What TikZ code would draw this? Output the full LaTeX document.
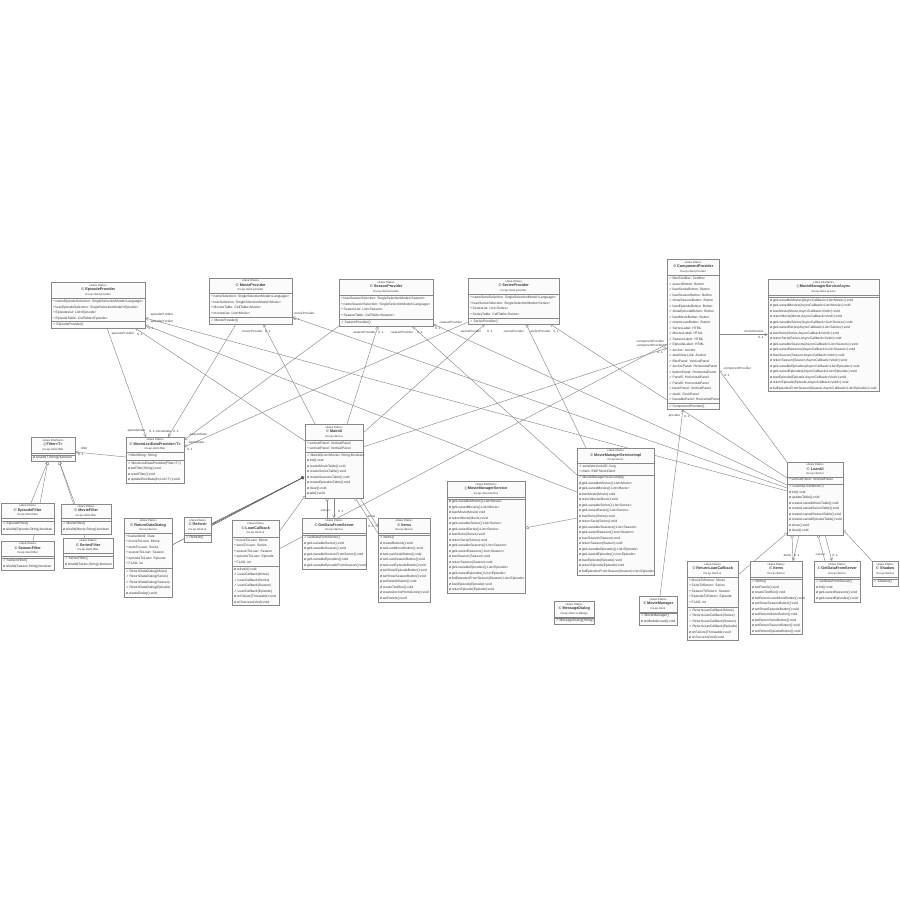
\documentclass[tikz,border=0pt]{standalone}
\usepackage{fontspec}
\setmainfont{Liberation Sans}
\newfontfamily\djv{DejaVu Sans}
\usetikzlibrary{arrows.meta,backgrounds}
\definecolor{umlline}{HTML}{888888}
\definecolor{umlfill}{HTML}{FBFBFB}
\definecolor{umltxt}{HTML}{383838}
\tikzset{
  umlboxstyle/.style={draw=umlline,fill=umlfill,line width=.55pt,inner sep=0pt,outer sep=0pt},
  umlsep/.style={draw=umlline,line width=.5pt},
  umlhead/.style={inner sep=0pt,align=center,text=umltxt,font=\fontsize{2.9}{4.7}\selectfont},
  umlrow/.style={inner sep=0pt,align=left,anchor=north west,text=umltxt,font=\fontsize{3.35}{5.5}\selectfont},
  umllab/.style={inner sep=0pt,text=umltxt,font=\fontsize{3.1}{4}\selectfont},
  assoc/.style={draw=umlline,line width=.45pt,-{Straight Barb[length=3pt,width=3pt,line width=.4pt]}},
  gen/.style={draw=umlline,line width=.45pt,-{Triangle[open,fill=white,length=3.5pt,width=3.5pt,line width=.4pt]}},
  nest/.style={draw=umlline,line width=.45pt,-{Circle[open,fill=white,length=3.2pt,width=3.2pt,line width=.4pt]}},
  nestdark/.style={draw=black!65,line width=.5pt,-{Circle[length=3.2pt,width=3.2pt]}},
}
\newcommand{\umlbox}[7]{%
  \expandafter\gdef\csname ux#1\endcsname{#2}%
  \expandafter\gdef\csname uy#1\endcsname{#3}%
  \node[umlboxstyle,anchor=north west,minimum width={(#4-#2)*1pt},minimum height={(#5-#3)*1pt}] (#1) at (#2,-#3) {};
  \draw[umlsep] (#2,-#6) -- (#4,-#6);
  \draw[umlsep] (#2,-#7) -- (#4,-#7);
}
% id, centre x, centre y, stereotype, icon, title, package
\newcommand{\umlhd}[7]{%
  \node[umlhead] (#1-h) at (#2,-#3) {«#4»\\{\fontsize{3.75}{4.7}\selectfont #5\,\textbf{#6}}\\{\fontsize{2.8}{4.7}\selectfont #7}};
}
\newcommand{\umlrows}[4]{\node[umlrow] (#1) at (#2,-#3-1.3) {#4};}
\newcommand{\conn}[7]{%
  \edef\uxa{\csname ux#2\endcsname}\edef\uya{\csname uy#2\endcsname}%
  \edef\uxb{\csname ux#5\endcsname}\edef\uyb{\csname uy#5\endcsname}%
  \pgfmathsetmacro\dxa{#3-\uxa}\pgfmathsetmacro\dya{\uya-#4}%
  \pgfmathsetmacro\dxb{#6-\uxb}\pgfmathsetmacro\dyb{\uyb-#7}%
  \draw[#1] ([shift={(\dxa,\dya)}]#2.north west) -- ([shift={(\dxb,\dyb)}]#5.north west);
}
\newcounter{labc}
\newcommand{\lab}[3]{\stepcounter{labc}\node[umllab] (lab\thelabc) at (#1,-#2) {#3};}
\newcommand{\A}{+\,}
\newcommand{\C}{{\djv ✓}\,}
\newcommand{\M}{{\djv ø}\,}
\newcommand{\IC}{{\djv ©}}
\newcommand{\II}{{\djv\rlap{○}\hspace{.9pt}\fontsize{2.6}{4.7}\selectfont I\hspace{.9pt}}}
\begin{document}
\begin{tikzpicture}[x=1pt,y=1pt]
\useasboundingbox (0,0) rectangle (900,-900);
% --- providers
\umlbox{Episode}{51}{282}{145}{328}{298}{321}
\umlhd{Episode}{98}{290}{Java Class}{\IC}{EpisodeProvider}{mv.ep.client.provider}
\umlrows{Episode-a}{53}{298.6}{\A nameEpisodeSelection: SingleSelectionModel<Language>\\\A loanEpisodeSelection: SingleSelectionModel<Episode>\\\A EpisodeList: List<Episode>\\\A EpisodeTable: CellTable<Episode>}
\umlrows{Episode-m}{53}{321.6}{\C EpisodeProvider()}
\umlbox{Movie}{209}{278}{292}{324}{293}{317}
\umlhd{Movie}{250.5}{285.5}{Java Class}{\IC}{MovieProvider}{mv.ep.client.provider}
\umlrows{Movie-a}{211}{293.6}{\A nameSelection: SingleSelectionModel<Language>\\\A loanSelection: SingleSelectionModel<Movie>\\\A MoviesTable: CellTable<Movie>\\\A moviesList: List<Movie>}
\umlrows{Movie-m}{211}{317.6}{\C MovieProvider()}
\umlbox{Season}{339}{279}{433}{326}{295}{319}
\umlhd{Season}{386}{287}{Java Class}{\IC}{SeasonProvider}{mv.ep.client.provider}
\umlrows{Season-a}{341}{295.6}{\A loanSeasonSelection: SingleSelectionModel<Season>\\\A nameSeasonSelection: SingleSelectionModel<Language>\\\A SeasonList: List<Season>\\\A SeasonTable: CellTable<Season>}
\umlrows{Season-m}{341}{319.6}{\C SeasonProvider()}
\umlbox{Series}{468}{278}{559}{324}{294}{318}
\umlhd{Series}{513.5}{286}{Java Class}{\IC}{SeriesProvider}{mv.ep.client.provider}
\umlrows{Series-a}{470}{294.6}{\A nameSerieSelection: SingleSelectionModel<Language>\\\A loanSeriesSelection: SingleSelectionModel<Series>\\\A SeriesList: List<Series>\\\A SeriesTable: CellTable<Series>}
\umlrows{Series-m}{470}{318.6}{\C SeriesProvider()}
\umlbox{Component}{667}{259}{719}{409}{275}{403}
\umlhd{Component}{693}{267}{Java Class}{\IC}{ComponentProvider}{mv.ep.client.provider}
\umlrows{Component-a}{669}{275.6}{\C filterTextBox: TextBox\\\C searchButton: Button\\\C loanSeriesButton: Button\\\C loanSeasonButton: Button\\\C showSeasonButton: Button\\\C loanEpisodeButton: Button\\\C showEpisodeButton: Button\\\C loanMovieButton: Button\\\C returnLoanButton: Button\\\C SeriesLabel: HTML\\\C MoviesLabel: HTML\\\C SeasonLabel: HTML\\\C EpisodeLabel: HTML\\\C anchor: Anchor\\\C startView-Link: Anchor\\\C filterPanel: VerticalPanel\\\C anchorPanel: HorizontalPanel\\\C buttonPanel: HorizontalPanel\\\C Panel5: HorizontalPanel\\\C Panel6: HorizontalPanel\\\C basicPanel: VerticalPanel\\\C stack: DockPanel\\\C loanablePanel: HorizontalPanel}
\umlrows{Component-m}{669}{403.6}{\C ComponentProvider()}
\umlbox{Async}{768}{279}{879}{391}{295}{297}
\umlhd{Async}{823.5}{287}{Java Interface}{\II}{MovieManagerServiceAsync}{mv.ep.client.service}
\umlrows{Async-m}{770}{297.3}{\M getLoanableMovies(AsyncCallback<List<Movie>>):void\\\M getLoanedMovies(AsyncCallback<List<Movie>>):void\\\M loanMovie(Movie,AsyncCallback<Void>):void\\\M returnMovie(Movie,AsyncCallback<Void>):void\\\M getLoanableSeries(AsyncCallback<List<Series>>):void\\\M getLoanedSeries(AsyncCallback<List<Series>>):void\\\M loanSerie(Series,AsyncCallback<Void>):void\\\M returnSerie(Series,AsyncCallback<Void>):void\\\M getLoanableSeasons(AsyncCallback<List<Season>>):void\\\M getLoanedSeasons(AsyncCallback<List<Season>>):void\\\M loanSeason(Season,AsyncCallback<Void>):void\\\M returnSeason(Season,AsyncCallback<Void>):void\\\M getLoanableEpisodes(AsyncCallback<List<Episode>>):void\\\M getLoanedEpisodes(AsyncCallback<List<Episode>>):void\\\M loanEpisode(Episode,AsyncCallback<Void>):void\\\M returnEpisode(Episode,AsyncCallback<Void>):void\\\M listEpisodesFromSeason(Season,AsyncCallback<List<Episode>>):void}
% --- filter
\umlbox{MLDP}{126}{437}{184}{483}{452}{460}
\umlhd{MLDP}{155}{444.5}{Java Class}{\IC}{MovieListDataProvider<T>}{mv.ep.client.filter}
\umlrows{MLDP-a}{128}{452.3}{\A filterString: String}
\umlrows{MLDP-m}{128}{460.3}{\C MovieListDataProvider(Filter<T>)\\\M setFilter(String):void\\\M resetFilter():void\\\M updateRowData(int,List<T>):void}
\umlbox{Filter}{31}{437}{75}{461}{453}{455}
\umlhd{Filter}{53}{445}{Java Interface}{\II}{Filter<T>}{mv.ep.client.filter}
\umlrows{Filter-m}{33}{455}{\M isValid(T,String):boolean}
\umlbox{EpF}{1}{503}{54}{534}{518}{521}
\umlhd{EpF}{27.5}{510.5}{Java Class}{\IC}{EpisodeFilter}{mv.ep.client.filter}
\umlrows{EpF-m}{3}{521}{\C EpisodeFilter()\\\M isValid(Episode,String):boolean}
\umlbox{MoF}{61}{504}{111}{534}{518}{521}
\umlhd{MoF}{86}{511}{Java Class}{\IC}{MovieFilter}{mv.ep.client.filter}
\umlrows{MoF-m}{63}{521}{\C MovieFilter()\\\M isValid(Movie,String):boolean}
\umlbox{SeaF}{1}{541}{54}{570}{556}{558}
\umlhd{SeaF}{27.5}{548.5}{Java Class}{\IC}{SeasonFilter}{mv.ep.client.filter}
\umlrows{SeaF-m}{3}{558}{\C SeasonFilter()\\\M isValid(Season,String):boolean}
\umlbox{SerF}{63}{538}{113}{568}{553}{556}
\umlhd{SerF}{88}{545.5}{Java Class}{\IC}{SeriesFilter}{mv.ep.client.filter}
\umlrows{SerF-m}{65}{556}{\C SeriesFilter()\\\M isValid(Series,String):boolean}
% --- ui
\umlbox{RDD}{124}{518}{172}{597}{533}{568}
\umlhd{RDD}{148}{525.5}{Java Class}{\IC}{ReturnDataDialog}{mv.ep.client.ui}
\umlrows{RDD-a}{126}{533.3}{\A loanedUntil: Date\\\A movieToLoan: Movie\\\A serieToLoan: Series\\\A seasonToLoan: Season\\\A episodeToLoan: Episode\\\A FLAG: int}
\umlrows{RDD-m}{126}{568.3}{\C ReturnDataDialog(Movie)\\\C ReturnDataDialog(Series)\\\C ReturnDataDialog(Season)\\\C ReturnDataDialog(Episode)\\\M createDialog():void}
\umlbox{Refresh}{184}{517}{211}{542}{533}{535}
\umlhd{Refresh}{197.5}{525}{Java Class}{\IC}{Refresh}{mv.ep.client.ui}
\umlrows{Refresh-m}{186}{535}{\C Refresh()}
\umlbox{LCB}{232}{520}{279}{605}{537}{566}
\umlhd{LCB}{255.5}{528.5}{Java Class}{\IC}{LoanCallback}{mv.ep.client.ui}
\umlrows{LCB-a}{234}{537.3}{\A movieToLoan: Movie\\\A serieToLoan: Series\\\A seasonToLoan: Season\\\A episodeToLoan: Episode\\\A FLAG: int}
\umlrows{LCB-m}{234}{566.3}{\M refresh():void\\\C LoanCallback(Movie)\\\C LoanCallback(Series)\\\C LoanCallback(Season)\\\C LoanCallback(Episode)\\\M onFailure(Throwable):void\\\M onSuccess(Void):void}
\umlbox{Main}{305}{424}{363}{498}{440}{452}
\umlhd{Main}{334}{432}{Java Class}{\IC}{MainUI}{mv.ep.client.ui}
\umlrows{Main-a}{307}{440.3}{\A verticalPanel: VerticalPanel\\\A verticalPanel: VerticalPanel}
\umlrows{Main-m}{307}{452.3}{\C MainUI(List<Movie>,String,Boolean)\\\M init():void\\\M createMovieTable():void\\\M createSeriesTable():void\\\M createSeasonsTable():void\\\M createEpisodesTable():void\\\M clear():void\\\M add():void}
\umlbox{GDS}{302}{518}{366}{569}{533}{535}
\umlhd{GDS}{334}{525.5}{Java Class}{\IC}{GetDataFromServer}{mv.ep.client.ui}
\umlrows{GDS-m}{304}{535}{\C GetDataFromServer()\\\M getLoanableSeries():void\\\M getLoanableSeason():void\\\M getLoanableSeasonFromSeries():void\\\M getLoanableEpisodes():void\\\M getLoanableEpisodeFromSeason():void}
\umlbox{Items}{378}{518}{430}{602}{533}{535}
\umlhd{Items}{404}{525.5}{Java Class}{\IC}{Items}{mv.ep.client.ui}
\umlrows{Items-m}{380}{535}{\C Items()\\\M createButtons():void\\\M setLoanMovieButton():void\\\M setLoanSerieButton():void\\\M setLoanSeasonButton():void\\\M setLoanEpisodeButton():void\\\M setShowEpisodeButton():void\\\M setShowSeasonButton():void\\\M setDetailsButton():void\\\M createTextBox():void\\\M createAnchorHomeLinks():void\\\M setPanels():void}
% --- service
\umlbox{Service}{447}{481}{525}{593}{497}{499}
\umlhd{Service}{486}{489}{Java Interface}{\II}{MovieManagerService}{mv.ep.client.service}
\umlrows{Service-m}{449}{499}{\M getLoanableMovies():List<Movie>\\\M getLoanedMovies():List<Movie>\\\M loanMovie(Movie):void\\\M returnMovie(Movie):void\\\M getLoanableSeries():List<Series>\\\M getLoanedSeries():List<Series>\\\M loanSerie(Series):void\\\M returnSerie(Series):void\\\M getLoanableSeasons():List<Season>\\\M getLoanedSeasons():List<Season>\\\M loanSeason(Season):void\\\M returnSeason(Season):void\\\M getLoanableEpisodes():List<Episode>\\\M getLoanedEpisodes():List<Episode>\\\M listEpisodesFromSeason(Season):List<Episode>\\\M loanEpisode(Episode):void\\\M returnEpisode(Episode):void}
\umlbox{Impl}{577}{448}{654}{575}{463}{475}
\umlhd{Impl}{615.5}{455.5}{Java Class}{\IC}{MovieManagerServiceImpl}{mv.ep.server}
\umlrows{Impl-a}{579}{463.3}{\C serialVersionUID: long\\\A client: EMFStoreClient}
\umlrows{Impl-m}{579}{475}{\C MovieManagerServiceImpl()\\\M getLoanableMovies():List<Movie>\\\M getLoanedMovies():List<Movie>\\\M loanMovie(Movie):void\\\M returnMovie(Movie):void\\\M getLoanableSeries():List<Series>\\\M getLoanedSeries():List<Series>\\\M loanSerie(Series):void\\\M returnSerie(Series):void\\\M getLoanableSeasons():List<Season>\\\M getLoanedSeasons():List<Season>\\\M loanSeason(Season):void\\\M returnSeason(Season):void\\\M getLoanableEpisodes():List<Episode>\\\M getLoanedEpisodes():List<Episode>\\\M loanEpisode(Episode):void\\\M returnEpisode(Episode):void\\\M listEpisodesFromSeason(Season):List<Episode>}
\umlbox{Msg}{554}{601}{594}{624}{617}{618}
\umlhd{Msg}{574}{609}{Java Class}{\IC}{MessageDialog}{mv.ep.client.ui.dialogs}
\umlrows{Msg-m}{556}{618}{\C MessageDialog(String)}
\umlbox{MM}{639}{596}{677}{625}{612}{613}
\umlhd{MM}{658}{604}{Java Class}{\IC}{MovieManager}{mv.ep.client}
\umlrows{MM-m}{641}{613}{\C MovieManager()\\\M onModuleLoad():void}
% --- loan ui
\umlbox{Loan}{787}{462}{843}{535}{477}{484}
\umlhd{Loan}{815}{469.5}{Java Class}{\IC}{LoanUI}{mv.ep.client.ui}
\umlrows{Loan-a}{789}{477}{\A verticalPanel: VerticalPanel}
\umlrows{Loan-m}{789}{484}{\C LoanUI(List<Movie>)\\\M init():void\\\M updateTable():void\\\M createLoanedMovieTable():void\\\M createLoanedSeriesTable():void\\\M createLoanedSeasonTable():void\\\M createLoanedEpisodeTable():void\\\M show():void\\\M clear():void}
\umlbox{RLC}{687}{561}{738}{640}{577}{607}
\umlhd{RLC}{712.5}{569}{Java Class}{\IC}{ReturnLoanCallback}{mv.ep.client.ui}
\umlrows{RLC-a}{689}{577.3}{\A MovieToReturn: Movie\\\A SerieToReturn: Series\\\A SeasonToReturn: Season\\\A EpisodeToReturn: Episode\\\A FLAG: int}
\umlrows{RLC-m}{689}{607.3}{\C ReturnLoanCallback(Movie)\\\C ReturnLoanCallback(Series)\\\C ReturnLoanCallback(Season)\\\C ReturnLoanCallback(Episode)\\\M onFailure(Throwable):void\\\M onSuccess(Void):void}
\umlbox{ItemsB}{750}{561}{802}{634}{577}{579}
\umlhd{ItemsB}{776}{569}{Java Class}{\IC}{Items}{mv.ep.client.ui}
\umlrows{ItemsB-m}{752}{579}{\C Items()\\\M setPanels():void\\\M createTextBox():void\\\M setReturnLoanMovieButton():void\\\M setShowSeasonButton():void\\\M setShowEpisodeButton():void\\\M setReturnMovieButton():void\\\M setReturnSerieButton():void\\\M setReturnSeasonButton():void\\\M setReturnEpisodeButton():void}
\umlbox{GDSB}{814}{561}{860}{602}{577}{579}
\umlhd{GDSB}{837}{569}{Java Class}{\IC}{GetDataFromServer}{mv.ep.client.ui}
\umlrows{GDSB-m}{816}{579}{\C GetDataFromServer()\\\M init():void\\\M getLoanedSeasons():void\\\M getLoanedEpisodes():void}
\umlbox{Shadow}{872}{561}{898}{586}{577}{579}
\umlhd{Shadow}{885}{569}{Java Class}{\IC}{Shadow}{mv.ep.client.ui}
\umlrows{Shadow-m}{874}{579}{\C Shadow()}
% --- connectors
\begin{pgfonlayer}{background}
\conn{assoc}{Episode}{107}{328}{MLDP}{146}{437}
\conn{assoc}{Movie}{236}{324}{MLDP}{168}{437}
\conn{assoc}{Season}{339}{326}{MLDP}{184}{440}
\conn{assoc}{Series}{468}{322}{MLDP}{184}{447}
\conn{assoc}{MLDP}{126}{457}{Filter}{75}{452}
\conn{gen}{EpF}{31}{503}{Filter}{48}{461}
\conn{gen}{SeaF}{33}{541}{Filter}{48}{461}
\conn{gen}{MoF}{75}{504}{Filter}{59}{461}
\conn{gen}{SerF}{85}{538}{Filter}{59}{461}
\conn{assoc}{Main}{305}{441}{Episode}{135}{328}
\conn{assoc}{Impl}{577}{492}{Episode}{145}{325}
\conn{assoc}{Loan}{787}{491}{Episode}{145}{318}
\conn{assoc}{Main}{315}{424}{Movie}{263}{324}
\conn{assoc}{Loan}{787}{488}{Movie}{292}{317}
\conn{assoc}{Main}{347}{424}{Season}{378}{326}
\conn{assoc}{Impl}{577}{475}{Season}{412}{326}
\conn{assoc}{Loan}{787}{485}{Season}{433}{324}
\conn{assoc}{Main}{363}{433}{Series}{485}{324}
\conn{assoc}{Impl}{586}{448}{Series}{526}{324}
\conn{assoc}{Loan}{787}{478}{Series}{550}{324}
\conn{assoc}{Loan}{787}{462}{Component}{719}{370}
\conn{assoc}{Main}{363}{447}{Component}{667}{348}
\conn{assoc}{LCB}{279}{549}{Component}{667}{344}
\conn{assoc}{MM}{660}{596}{Component}{683}{409}
\conn{assoc}{Component}{719}{334.5}{Async}{768}{334.5}
\conn{nestdark}{RDD}{172}{545}{Main}{304}{477}
\conn{nestdark}{Refresh}{211}{524}{Main}{304}{477}
\conn{nestdark}{Refresh}{211}{526}{Main}{304}{477}
\conn{nest}{LCB}{279}{532}{Main}{305}{496}
\conn{nest}{GDS}{327}{518}{Main}{327}{498}
\conn{assoc}{Main}{334}{498}{GDS}{334}{518}
\conn{nest}{Items}{378}{533}{Main}{355}{498}
\conn{assoc}{Main}{360}{498}{Items}{378}{527}
\conn{gen}{Impl}{577}{518}{Service}{525}{528}
\conn{nest}{RLC}{738}{575}{Loan}{787}{533}
\conn{nest}{ItemsB}{793}{561}{Loan}{792}{535}
\conn{assoc}{Loan}{799}{535}{ItemsB}{793}{561}
\conn{nest}{GDSB}{825}{561}{Loan}{818}{535}
\conn{assoc}{Loan}{825}{535}{GDSB}{832}{561}
\conn{nest}{Shadow}{873}{562}{Loan}{843}{530}
\end{pgfonlayer}
% --- labels
\lab{122.5}{334}{-episodeProvider}\lab{140}{334}{0..1}
\lab{161.5}{315}{-episodeProvider}\lab{161.5}{322}{-episodeProvider}\lab{151}{328}{0..1}
\lab{136}{431}{-episodeData}\lab{152}{431}{0..1}
\lab{163}{431}{-movieData}\lab{176}{431}{0..1}
\lab{198}{434}{-seasonData}\lab{196}{442}{-seriesData}\lab{190}{449}{0..1}
\lab{84}{448}{-filter}\lab{81}{454}{0..1}
\lab{304}{313}{-movieProvider}\lab{297}{319}{0..1}
\lab{252}{331}{-movieProvider}\lab{268}{331}{0..1}
\lab{364}{332}{-seasonProvider}\lab{381}{332}{0..1}
\lab{401.5}{332}{-seasonProvider}\lab{420}{332}{0..1}
\lab{450.5}{322}{-seasonProvider}\lab{438}{328}{0..1}
\lab{470.5}{331}{-seriesProvider}\lab{490}{331}{0..1}
\lab{513.5}{331}{-seriesProvider}\lab{540}{331}{-seriesProvider}\lab{556}{331}{0..1}
\lab{650}{342}{-componentProvider}\lab{650}{346}{-componentProvider}\lab{660}{352}{0..1}
\lab{753.5}{331}{-movieService}\lab{761}{337}{0..1}
\lab{737}{369}{-componentProvider}\lab{727}{375}{0..1}
\lab{674}{416}{-provider}\lab{687}{416}{0..1}
\lab{325}{511}{-server}\lab{341}{511}{0..1}
\lab{371}{516}{-items}\lab{371}{526}{0..1}
\lab{787}{555}{-items}\lab{797}{555}{0..1}
\lab{820}{555}{-server}\lab{835}{555}{0..1}
\end{tikzpicture}
\end{document}
